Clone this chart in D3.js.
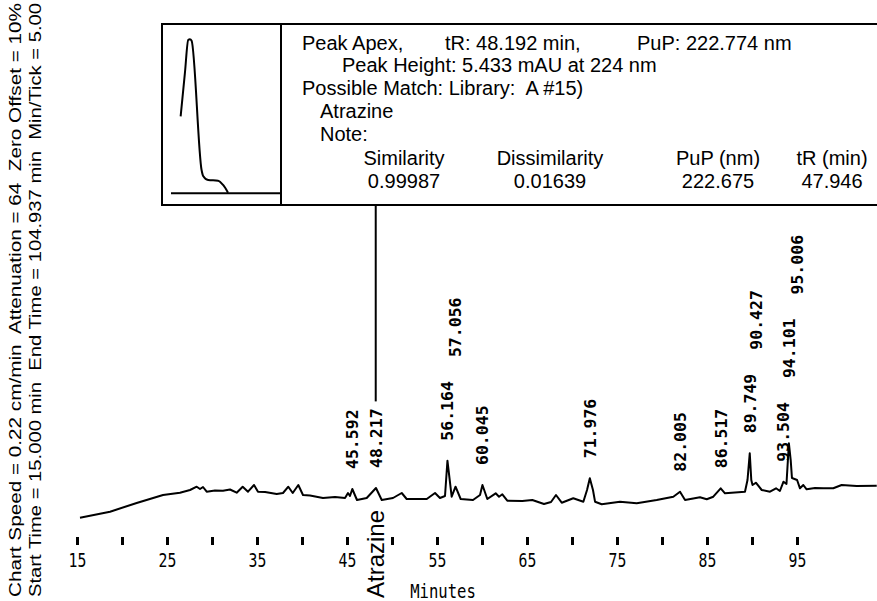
<!DOCTYPE html>
<html>
<head>
<meta charset="utf-8">
<script src="https://cdn.jsdelivr.net/npm/d3@7"></script>
<style>
  body { margin: 0; background: #fff; }
  text { white-space: pre; }
</style>
</head>
<body>
<script>
// Chromatogram trace (minutes, signal)
const traceMinutes = [15.33, 18.67, 21.63, 24.56, 26.44, 27.56, 28.30, 28.67, 29.00, 29.41, 30.33, 31.22, 32.00, 32.74,
  33.41, 34.00, 34.67, 35.11, 35.90, 37.19, 37.89, 38.48, 38.97, 39.59, 40.11, 40.89, 42.33, 43.67, 44.78, 45.11,
  45.33, 45.59, 46.11, 47.19, 48.22, 48.86, 50.11, 51.08, 51.63, 53.86, 54.78, 55.33, 55.89, 56.16, 56.63, 57.06,
  57.63, 59.00, 59.78, 60.05, 60.59, 61.52, 61.89, 62.26, 62.81, 64.48, 65.59, 66.89, 67.67, 68.22, 68.86, 70.14,
  71.26, 71.67, 71.98, 72.33, 72.56, 73.30, 75.33, 77.19, 79.41, 81.26, 82.00, 82.56, 84.22, 84.97, 85.70, 86.52,
  87.00, 89.22, 89.50, 89.75, 89.92, 90.06, 90.43, 91.08, 92.00, 92.67, 93.10, 93.50, 93.83, 94.10, 94.30, 94.44,
  95.01, 95.33, 95.70, 96.07, 97.00, 97.92, 99.03, 99.96, 101.63, 103.86];
const traceSignal = [1.23, 1.83, 2.70, 3.50, 3.73, 4.00, 4.33, 4.10, 4.30, 3.83, 3.95, 3.93, 4.05, 3.73,
  4.33, 3.83, 4.50, 3.83, 3.80, 3.60, 3.70, 4.33, 3.70, 4.50, 3.50, 3.45, 3.20, 3.30, 3.20, 3.70,
  3.40, 4.10, 3.00, 3.20, 4.20, 3.00, 3.20, 3.70, 3.10, 3.10, 3.70, 3.20, 3.40, 6.93, 3.33, 4.33,
  3.10, 3.00, 3.50, 4.50, 3.10, 3.67, 3.33, 3.57, 2.93, 2.90, 3.00, 2.60, 2.80, 3.50, 2.73, 3.17,
  2.83, 4.00, 5.17, 4.00, 2.83, 2.57, 2.83, 2.67, 3.00, 3.33, 3.83, 3.00, 3.27, 3.07, 3.33, 4.17,
  3.67, 3.83, 5.00, 7.67, 5.00, 4.50, 4.73, 4.00, 3.83, 4.17, 3.90, 4.83, 4.60, 8.67, 7.00, 5.20,
  5.00, 4.17, 4.50, 4.07, 4.20, 4.17, 4.17, 4.50, 4.40, 4.43];

// Labelled retention times
const peakTimes = ["45.592", "48.217", "56.164", "57.056", "60.045", "71.976", "82.005",
  "86.517", "89.749", "90.427", "93.504", "94.101", "95.006"];

// Time axis
const tickMinutes = d3.range(15, 96, 5);
const labelMinutes = [15, 25, 35, 45, 55, 65, 75, 85, 95];

// Inset UV spectrum of the Atrazine peak (nm, normalised absorbance)
const spectrumNm = [200, 211, 219.6, 224, 228.4, 254.2, 258.3, 271.2, 297, 310, 322.8];
const spectrumAbs = [0.50, 0.78, 0.995, 1.0, 0.99, 0.151, 0.112, 0.086, 0.082, 0.054, 0.004];

// Match report texts
const matchTime = 48.192;
const matchName = "Atrazine";
const tableHeaders = ["Similarity", "Dissimilarity", "PuP (nm)", "tR (min)"];
const tableValues = ["0.99987", "0.01639", "222.675", "47.946"];
const runInfo = [
  "Chart Speed = 0.22 cm/min  Attenuation = 64  Zero Offset = 10%",
  "Start Time = 15.000 min  End Time = 104.937 min  Min/Tick = 5.00"
];

const width = 877, height = 601;
const svg = d3.select("body").append("svg")
  .attr("width", width)
  .attr("height", height);

const x = d3.scaleLinear().domain([15, 95]).range([77, 797]);
const y = d3.scaleLinear().domain([0, 10]).range([530, 430]);

const trace = traceMinutes.map((t, i) => [t, traceSignal[i]]);

// trace
svg.append("path")
  .datum(trace)
  .attr("fill", "none")
  .attr("stroke", "#000")
  .attr("stroke-width", 2)
  .attr("stroke-linejoin", "round")
  .attr("d", d3.line().x(d => x(d[0])).y(d => y(d[1])));

// time axis: short heavy ticks, labels every 10 min
const axis = svg.append("g")
  .attr("transform", "translate(0,537)")
  .call(d3.axisBottom(x).tickValues(tickMinutes).tickSize(8)
    .tickFormat(d => labelMinutes.includes(d) ? d : ""));
axis.select(".domain").remove();
axis.selectAll(".tick line").attr("stroke", "#000").attr("stroke-width", 3);
axis.selectAll(".tick text")
  .attr("y", 30).attr("dy", null)
  .attr("fill", "#000")
  .attr("font-family", "DejaVu Sans Mono")
  .attr("font-size", 20)
  .attr("transform", "scale(0.74,1)");

svg.append("text")
  .attr("transform", "translate(443,598) scale(0.82,1)")
  .attr("text-anchor", "middle")
  .attr("font-family", "DejaVu Sans Mono")
  .attr("font-size", 19)
  .text("Minutes");

// peak labels, stacked when they sit close together
const labelFont = 16.5;
const labelLen = 6 * labelFont * 0.602;
let prev = null;
const labels = peakTimes.map(s => {
  const t = +s;
  const near = trace.filter(d => Math.abs(d[0] - t) < 0.25);
  const apex = d3.max(near, d => d[1]);
  let bottom = y(apex) - 20;
  if (prev && Math.abs(x(t) - prev.x) < 14) bottom = Math.min(bottom, prev.bottom - labelLen - 24);
  prev = { x: x(t), bottom };
  return { s, x: x(t), bottom };
});

svg.selectAll(".peak")
  .data(labels)
  .enter()
  .append("text")
  .attr("class", "peak")
  .attr("transform", d => `translate(${d.x},${d.bottom}) rotate(-90)`)
  .attr("dy", "0.36em")
  .attr("font-family", "DejaVu Sans Mono")
  .attr("font-weight", "bold")
  .attr("font-size", labelFont)
  .text(d => d.s);

// match pointer from the report box to its peak
const target = labels.find(d => Math.abs(+d.s - matchTime) < 0.1);
svg.append("line")
  .attr("x1", x(matchTime)).attr("x2", x(matchTime))
  .attr("y1", 205).attr("y2", target.bottom - labelLen - 7)
  .attr("stroke", "#000").attr("stroke-width", 2);

svg.append("text")
  .attr("transform", `translate(${x(matchTime) + 8},598) rotate(-90)`)
  .attr("font-family", "Liberation Sans, Arial, sans-serif")
  .attr("font-size", 24)
  .text(matchName);

// run info along the left edge
svg.selectAll(".info")
  .data(runInfo)
  .enter()
  .append("text")
  .attr("class", "info")
  .attr("transform", (d, i) => `translate(${21 + i * 20},597) rotate(-90)`)
  .attr("font-family", "Liberation Sans, Arial, sans-serif")
  .attr("font-size", 17)
  .attr("textLength", 594)
  .attr("lengthAdjust", "spacingAndGlyphs")
  .text(d => d);

// report box
const box = svg.append("g");
box.append("rect")
  .attr("x", 162).attr("y", 24).attr("width", 760).attr("height", 181)
  .attr("fill", "#fff").attr("stroke", "#000").attr("stroke-width", 2);
box.append("line")
  .attr("x1", 281).attr("x2", 281).attr("y1", 24).attr("y2", 205)
  .attr("stroke", "#000").attr("stroke-width", 2);

const sx = d3.scaleLinear().domain([175, 460]).range([171, 281]);
const sy = d3.scaleLinear().domain([0, 1]).range([193.3, 39.3]);
box.append("line")
  .attr("x1", sx(175)).attr("x2", sx(460)).attr("y1", sy(0)).attr("y2", sy(0))
  .attr("stroke", "#000").attr("stroke-width", 2);
box.append("path")
  .datum(spectrumNm.map((n, i) => [n, spectrumAbs[i]]))
  .attr("fill", "none").attr("stroke", "#000").attr("stroke-width", 2)
  .attr("d", d3.line().curve(d3.curveMonotoneX).x(d => sx(d[0])).y(d => sy(d[1])));

const font = "Liberation Sans, Arial, sans-serif";
const lines = [
  { x: 302, y: 50, t: "Peak Apex," },
  { x: 445, y: 50, t: `tR: ${matchTime.toFixed(3)} min,` },
  { x: 637, y: 50, t: "PuP: 222.774 nm" },
  { x: 342, y: 72, t: "Peak Height: 5.433 mAU at 224 nm" },
  { x: 302, y: 95, t: "Possible Match: Library:  A #15)" },
  { x: 320, y: 118, t: matchName },
  { x: 320, y: 141, t: "Note:" }
];
box.selectAll(".ln")
  .data(lines)
  .enter()
  .append("text")
  .attr("x", d => d.x).attr("y", d => d.y)
  .attr("font-family", font).attr("font-size", 20)
  .text(d => d.t);

const colX = [404, 550, 718, 832];
box.selectAll(".hd")
  .data(tableHeaders)
  .enter()
  .append("text")
  .attr("x", (d, i) => colX[i]).attr("y", 165)
  .attr("text-anchor", "middle")
  .attr("font-family", font).attr("font-size", 20)
  .text(d => d);
box.selectAll(".vl")
  .data(tableValues)
  .enter()
  .append("text")
  .attr("x", (d, i) => colX[i]).attr("y", 188)
  .attr("text-anchor", "middle")
  .attr("font-family", font).attr("font-size", 20)
  .text(d => d);
</script>
</body>
</html>
